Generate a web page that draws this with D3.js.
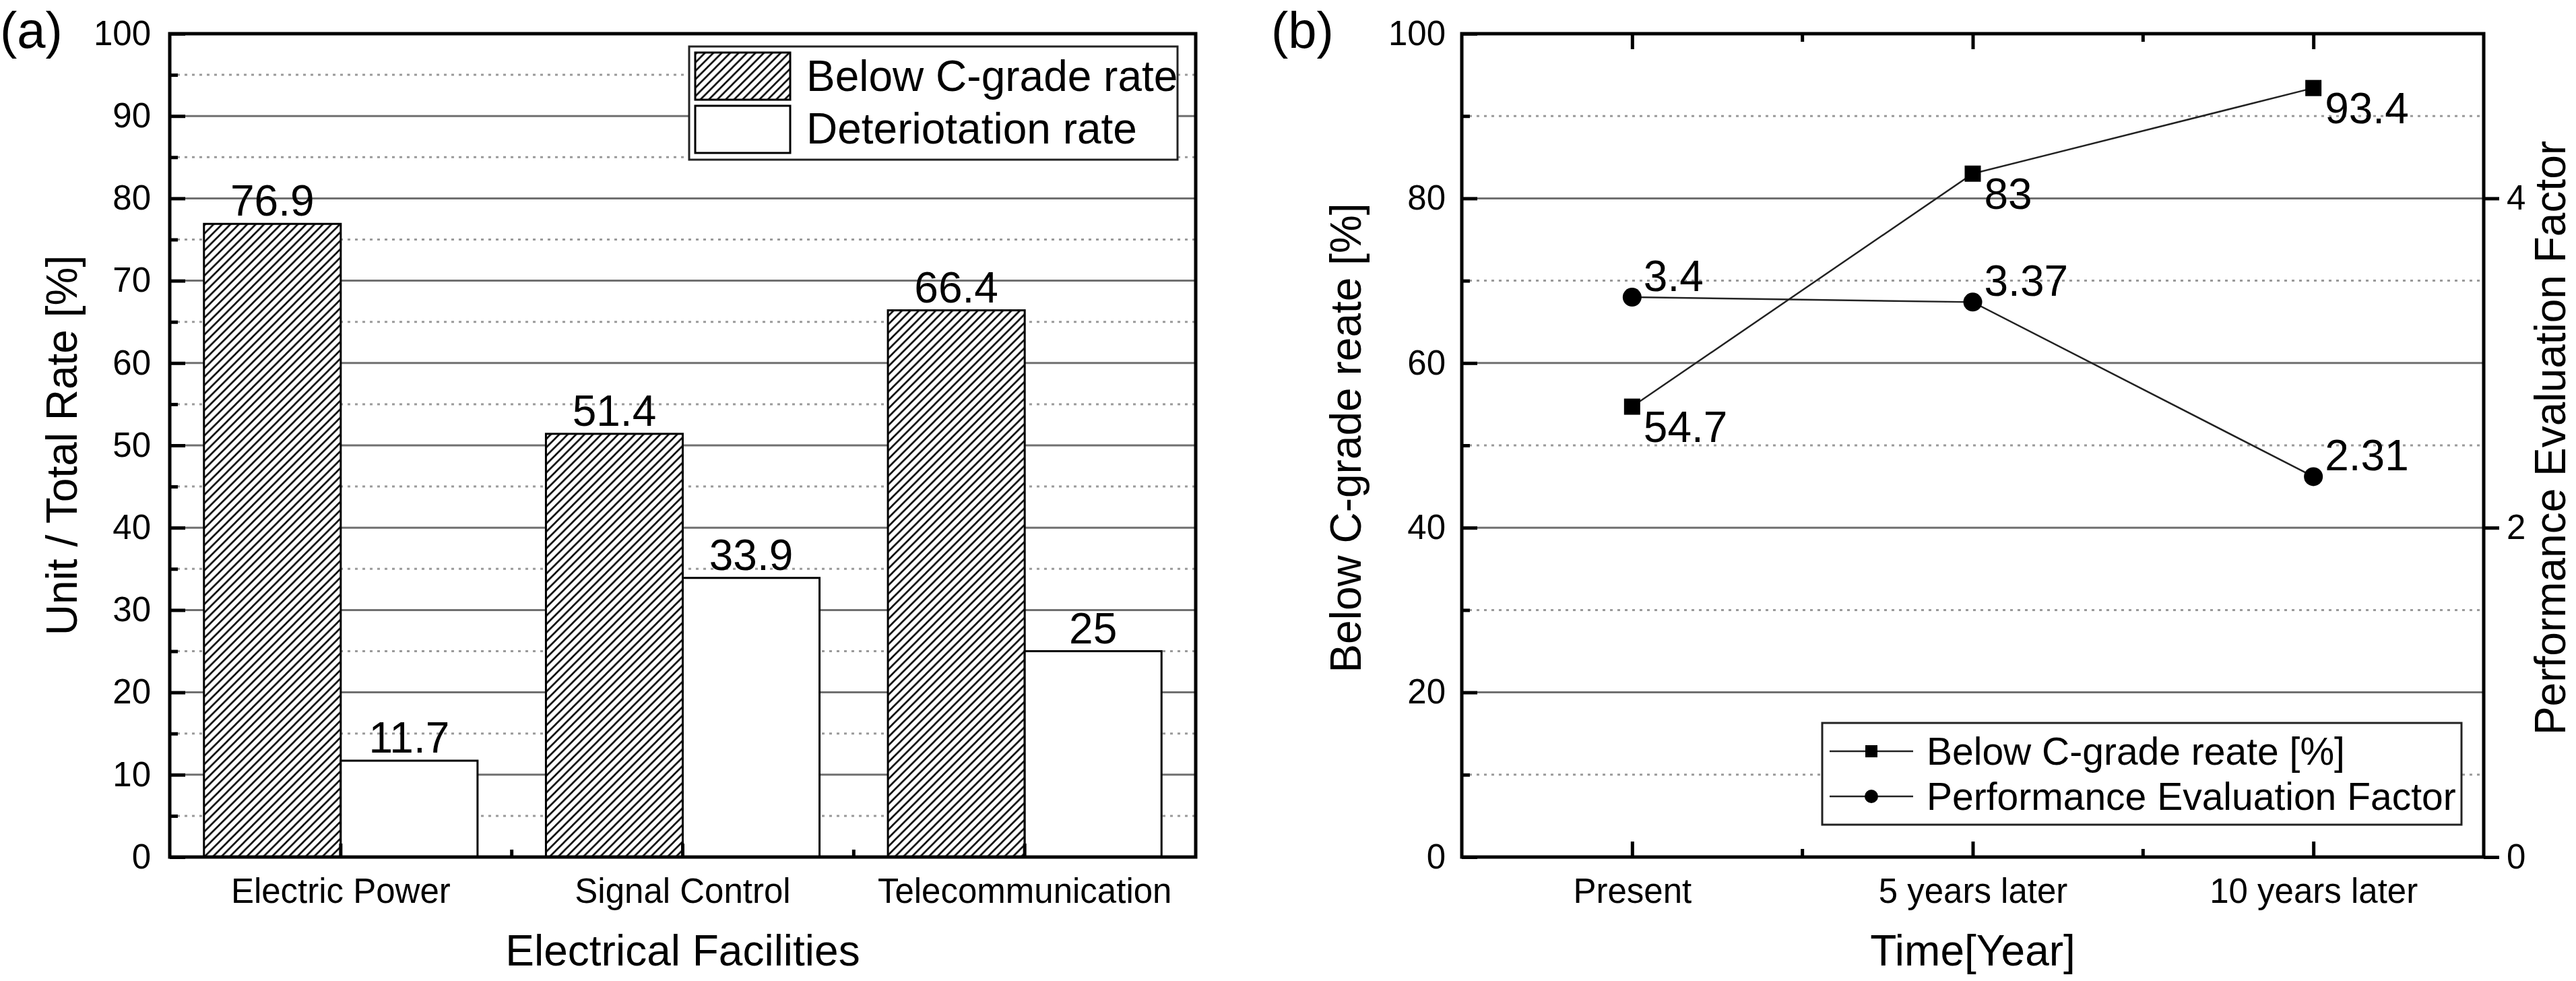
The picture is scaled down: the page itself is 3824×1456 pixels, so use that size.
<!DOCTYPE html>
<html>
<head>
<meta charset="utf-8">
<script src="https://cdn.jsdelivr.net/npm/d3@7"></script>
<style>
  body { margin: 0; background: #fff; }
  svg { display: block; font-family: "Liberation Sans", Arial, sans-serif; }
</style>
</head>
<body>
<svg id="chart" width="3824" height="1456"></svg>
<script>
// (a) 설비별 등급/노후화 비율
const facilities = ["Electric Power", "Signal Control", "Telecommunication"];
const belowCRate = [76.9, 51.4, 66.4];
const deteriorationRate = [11.7, 33.9, 25];
const seriesA = ["Below C-grade rate", "Deteriotation rate"];

// (b) 시간에 따른 변화
const timeLabels = ["Present", "5 years later", "10 years later"];
const belowCTrend = [54.7, 83, 93.4];
const perfFactor = [3.4, 3.37, 2.31];
const seriesB = ["Below C-grade reate [%]", "Performance Evaluation Factor"];

const svg = d3.select("#chart");
const INK = "#000";

// 빗금 패턴
const defs = svg.append("defs");
const hatch = defs.append("pattern")
    .attr("id", "hatch")
    .attr("patternUnits", "userSpaceOnUse")
    .attr("width", 12.5)
    .attr("height", 12.5);
hatch.append("rect").attr("width", 12.5).attr("height", 12.5).attr("fill", "#fff");
hatch.append("path")
    .attr("d", "M0,12.5L12.5,0M-3,3L3,-3M9.5,15.5L15.5,9.5")
    .attr("stroke", INK)
    .attr("stroke-width", 2.6);

function gridLines(g, y, x0, x1, values, dotted) {
    g.selectAll(null)
        .data(values)
        .join("line")
        .attr("x1", x0).attr("x2", x1)
        .attr("y1", d => y(d)).attr("y2", d => y(d))
        .attr("stroke", dotted ? "#9a9a9a" : "#707070")
        .attr("stroke-width", 3)
        .attr("stroke-dasharray", dotted ? "4,7" : null);
}

function styleAxis(g, size) {
    g.attr("font-family", null).attr("font-size", size);
    g.select(".domain").remove();
    g.selectAll(".tick line").attr("stroke", INK).attr("stroke-width", 5);
    g.selectAll(".tick text").attr("fill", INK);
}

function text(g, x, y, str, size, anchor) {
    return g.append("text")
        .attr("x", x).attr("y", y)
        .attr("font-size", size)
        .attr("text-anchor", anchor || "start")
        .attr("fill", INK)
        .text(str);
}

function vText(g, x, y, str, size) {
    return g.append("text")
        .attr("transform", `translate(${x},${y}) rotate(-90)`)
        .attr("font-size", size)
        .attr("text-anchor", "middle")
        .attr("fill", INK)
        .text(str);
}

// ---------------- (a) bar chart ----------------
function drawBars() {
    const m = {left: 252, right: 1775, top: 50, bottom: 1272};
    const g = svg.append("g");

    const y = d3.scaleLinear().domain([0, 100]).range([m.bottom, m.top]);
    const x0 = d3.scaleBand().domain(facilities).range([m.left, m.right]);
    const x1 = d3.scaleBand().domain(seriesA).range([0, x0.bandwidth()]).paddingOuter(0.25);

    gridLines(g, y, m.left, m.right, d3.range(10, 100, 10), false);
    gridLines(g, y, m.left, m.right, d3.range(5, 100, 10), true);

    const bars = facilities.flatMap((f, i) => [
        {cat: f, key: seriesA[0], value: belowCRate[i]},
        {cat: f, key: seriesA[1], value: deteriorationRate[i]}
    ]);

    g.selectAll("rect.bar")
        .data(bars)
        .join("rect")
        .attr("class", "bar")
        .attr("x", d => x0(d.cat) + x1(d.key))
        .attr("y", d => y(d.value))
        .attr("width", x1.bandwidth())
        .attr("height", d => y(0) - y(d.value))
        .attr("fill", d => d.key === seriesA[0] ? "url(#hatch)" : "#fff")
        .attr("stroke", INK)
        .attr("stroke-width", 3);

    g.selectAll("text.val")
        .data(bars)
        .join("text")
        .attr("class", "val")
        .attr("x", d => x0(d.cat) + x1(d.key) + x1.bandwidth() / 2)
        .attr("y", d => y(d.value) - 12)
        .attr("text-anchor", "middle")
        .attr("font-size", 64)
        .attr("fill", INK)
        .text(d => d.value);

    // 축
    g.append("g")
        .attr("transform", `translate(${m.left},0)`)
        .call(d3.axisLeft(y).tickValues(d3.range(0, 101, 10)).tickSize(-23).tickPadding(28))
        .call(a => styleAxis(a, 51));
    g.append("g")
        .attr("transform", `translate(${m.left},0)`)
        .call(d3.axisLeft(y).tickValues(d3.range(5, 100, 10)).tickSize(-12).tickFormat(""))
        .call(a => styleAxis(a, 51));
    g.append("g")
        .attr("transform", `translate(0,${m.bottom})`)
        .call(d3.axisBottom(x0).tickSize(-20).tickPadding(32))
        .call(a => styleAxis(a, 51));
    g.selectAll("line.minor-x")
        .data(facilities.slice(1))
        .join("line")
        .attr("class", "minor-x")
        .attr("x1", d => x0(d)).attr("x2", d => x0(d))
        .attr("y1", m.bottom).attr("y2", m.bottom - 11)
        .attr("stroke", INK).attr("stroke-width", 5);

    g.append("rect")
        .attr("x", m.left).attr("y", m.top)
        .attr("width", m.right - m.left).attr("height", m.bottom - m.top)
        .attr("fill", "none").attr("stroke", INK).attr("stroke-width", 5);

    vText(g, 114, (m.top + m.bottom) / 2, "Unit / Total Rate [%]", 64);
    text(g, (m.left + m.right) / 2, 1433, "Electrical Facilities", 64, "middle");

    // 범례
    const lg = g.append("g");
    lg.append("rect")
        .attr("x", 1023).attr("y", 69).attr("width", 725).attr("height", 168)
        .attr("fill", "#fff").attr("stroke", "#222").attr("stroke-width", 3);
    seriesA.forEach((s, i) => {
        lg.append("rect")
            .attr("x", 1032).attr("y", 78 + i * 79).attr("width", 141).attr("height", 70)
            .attr("fill", i === 0 ? "url(#hatch)" : "#fff")
            .attr("stroke", INK).attr("stroke-width", 3);
        text(lg, 1197, 135 + i * 78, s, 64);
    });

    text(g, 0, 71, "(a)", 76);
}

// ---------------- (b) line chart ----------------
function drawLines() {
    const m = {left: 2170, right: 3687, top: 50, bottom: 1272};
    const g = svg.append("g");

    const yL = d3.scaleLinear().domain([0, 100]).range([m.bottom, m.top]);
    const yR = d3.scaleLinear().domain([0, 5]).range([m.bottom, m.top]);
    const x = d3.scalePoint().domain(timeLabels).range([m.left, m.right]).padding(0.5);

    gridLines(g, yL, m.left, m.right, [20, 40, 60, 80], false);
    gridLines(g, yL, m.left, m.right, d3.range(10, 100, 20), true);

    const mids = timeLabels.slice(1).map((t, i) => (x(t) + x(timeLabels[i])) / 2);

    // 축
    g.append("g")
        .attr("transform", `translate(${m.left},0)`)
        .call(d3.axisLeft(yL).tickValues(d3.range(0, 101, 20)).tickSize(-23).tickPadding(24))
        .call(a => styleAxis(a, 51));
    g.append("g")
        .attr("transform", `translate(${m.left},0)`)
        .call(d3.axisLeft(yL).tickValues(d3.range(10, 100, 20)).tickSize(-12).tickFormat(""))
        .call(a => styleAxis(a, 51));
    g.append("g")
        .attr("transform", `translate(${m.right},0)`)
        .call(d3.axisRight(yR).tickValues([0, 2, 4]).tickFormat(d3.format("d")).tickSize(23).tickPadding(11))
        .call(a => styleAxis(a, 51));
    g.append("g")
        .attr("transform", `translate(0,${m.bottom})`)
        .call(d3.axisBottom(x).tickSize(-23).tickPadding(32))
        .call(a => styleAxis(a, 51));
    g.append("g")
        .attr("transform", `translate(0,${m.top})`)
        .call(d3.axisTop(x).tickSize(-23).tickFormat(""))
        .call(a => styleAxis(a, 51));
    [[m.bottom, -12], [m.top, 12]].forEach(([yy, len]) => {
        g.selectAll(null)
            .data(mids)
            .join("line")
            .attr("x1", d => d).attr("x2", d => d)
            .attr("y1", yy).attr("y2", yy + len)
            .attr("stroke", INK).attr("stroke-width", 5);
    });

    g.append("rect")
        .attr("x", m.left).attr("y", m.top)
        .attr("width", m.right - m.left).attr("height", m.bottom - m.top)
        .attr("fill", "none").attr("stroke", INK).attr("stroke-width", 5);

    const line = d3.line().x((d, i) => x(timeLabels[i]));

    // Below C-grade (왼쪽 축)
    g.append("path")
        .datum(belowCTrend)
        .attr("d", line.y(d => yL(d)))
        .attr("fill", "none").attr("stroke", "#222").attr("stroke-width", 2.5);
    // 성능평가계수 (오른쪽 축)
    g.append("path")
        .datum(perfFactor)
        .attr("d", line.y(d => yR(d)))
        .attr("fill", "none").attr("stroke", "#222").attr("stroke-width", 2.5);

    g.selectAll("rect.sq")
        .data(belowCTrend)
        .join("rect")
        .attr("class", "sq")
        .attr("x", (d, i) => x(timeLabels[i]) - 12)
        .attr("y", d => yL(d) - 12)
        .attr("width", 24).attr("height", 24)
        .attr("fill", INK);
    g.selectAll("circle.pt")
        .data(perfFactor)
        .join("circle")
        .attr("class", "pt")
        .attr("cx", (d, i) => x(timeLabels[i]))
        .attr("cy", d => yR(d))
        .attr("r", 14)
        .attr("fill", INK);

    g.selectAll("text.sqv")
        .data(belowCTrend)
        .join("text")
        .attr("class", "sqv")
        .attr("x", (d, i) => x(timeLabels[i]) + 17)
        .attr("y", d => yL(d) + 52)
        .attr("font-size", 64).attr("fill", INK)
        .text(d => d);
    g.selectAll("text.ptv")
        .data(perfFactor)
        .join("text")
        .attr("class", "ptv")
        .attr("x", (d, i) => x(timeLabels[i]) + 17)
        .attr("y", d => yR(d) - 9)
        .attr("font-size", 64).attr("fill", INK)
        .text(d => d);

    vText(g, 2020, 650, "Below C-grade reate [%]", 64);
    vText(g, 3808, 650, "Performance Evaluation Factor", 64);
    text(g, (m.left + m.right) / 2, 1433, "Time[Year]", 64, "middle");

    // 범례
    const lg = g.append("g");
    lg.append("rect")
        .attr("x", 2705).attr("y", 1073).attr("width", 949).attr("height", 151)
        .attr("fill", "#fff").attr("stroke", "#222").attr("stroke-width", 3);
    seriesB.forEach((s, i) => {
        const ry = 1115 + i * 67;
        lg.append("line")
            .attr("x1", 2716).attr("x2", 2840).attr("y1", ry).attr("y2", ry)
            .attr("stroke", "#222").attr("stroke-width", 2.5);
        if (i === 0) {
            lg.append("rect").attr("x", 2769).attr("y", ry - 9).attr("width", 18).attr("height", 18).attr("fill", INK);
        } else {
            lg.append("circle").attr("cx", 2778).attr("cy", ry).attr("r", 10).attr("fill", INK);
        }
        text(lg, 2860, ry + 20, s, 57);
    });

    text(g, 1887, 71, "(b)", 76);
}

drawBars();
drawLines();
</script>
</body>
</html>
